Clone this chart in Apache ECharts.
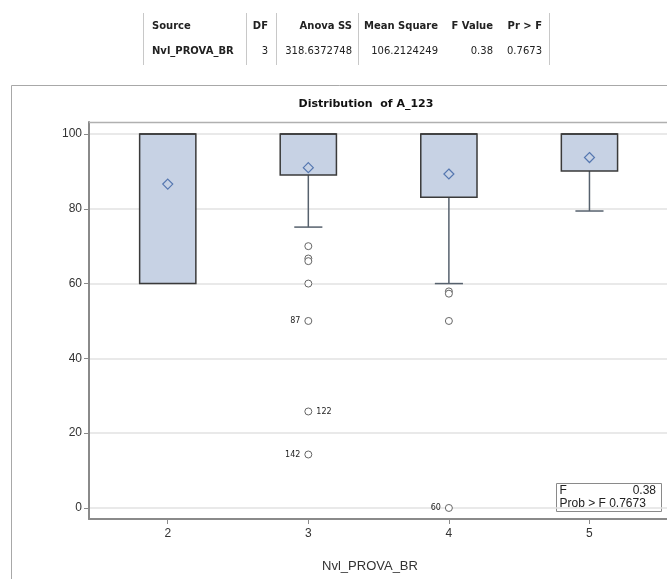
<!DOCTYPE html>
<html><head><meta charset="utf-8">
<script src="https://cdn.jsdelivr.net/npm/echarts@6/dist/echarts.min.js"></script>
<style>html,body{margin:0;padding:0;background:#fff}#c{width:667px;height:579px}</style>
</head><body><div id="c"></div>
<script>
// ---- data ----
const categories = [2, 3, 4, 5];
const tickLabels = ['2', '3', '4', '5'];
const yTicks = [0, 20, 40, 60, 80, 100];
const whiskerLow = [60, 75.1, 60, 79.4];
const q1 = [60, 89.0, 83.1, 90.1];
const median = [100, 100, 100, 100];
const q3 = [100, 100, 100, 100];
const whiskerHigh = [100, 100, 100, 100];
const means = [86.6, 91.0, 89.3, 93.7];
const outlierX = [3, 3, 3, 3, 3, 3, 3, 4, 4, 4, 4];
const outlierY = [70, 66.7, 66.0, 60, 50, 25.8, 14.3, 57.9, 57.3, 50, 0];
const outlierIds = ['', '', '', '', '87', '122', '142', '', '', '', '60'];
const anovaHeader = ['Source', 'DF', 'Anova SS', 'Mean Square', 'F Value', 'Pr > F'];
const anovaRow = ['Nvl_PROVA_BR', '3', '318.6372748', '106.2124249', '0.38', '0.7673'];
const fValue = '0.38';
const probF = '0.7673';
const chartTitle = 'Distribution  of A_123';
const xTitle = 'Nvl_PROVA_BR';

// ---- build ----
const chart = echarts.init(document.getElementById('c'), null, {renderer: 'canvas'});

const boxData = categories.map((c, i) => [c, whiskerLow[i], q1[i], median[i], q3[i], whiskerHigh[i], means[i]]);

function renderBox(params, api) {
  const x = api.value(0);
  const lo = api.coord([x, api.value(1)]);
  const b1 = api.coord([x, api.value(2)]);
  const md = api.coord([x, api.value(3)]);
  const b3 = api.coord([x, api.value(4)]);
  const hi = api.coord([x, api.value(5)]);
  const mn = api.coord([x, api.value(6)]);
  const w = api.size([0.4, 0])[0];
  const cw = api.size([0.2, 0])[0];
  const cx = lo[0];
  const wStyle = {stroke: '#56616d', lineWidth: 1.5};
  const children = [];
  if (Math.abs(lo[1] - b1[1]) > 0.5) {
    children.push({type: 'line', shape: {x1: cx, y1: b1[1], x2: cx, y2: lo[1]}, style: wStyle});
    children.push({type: 'line', shape: {x1: cx - cw / 2, y1: lo[1], x2: cx + cw / 2, y2: lo[1]}, style: wStyle});
  }
  if (Math.abs(hi[1] - b3[1]) > 0.5) {
    children.push({type: 'line', shape: {x1: cx, y1: b3[1], x2: cx, y2: hi[1]}, style: wStyle});
    children.push({type: 'line', shape: {x1: cx - cw / 2, y1: hi[1], x2: cx + cw / 2, y2: hi[1]}, style: wStyle});
  }
  children.push({type: 'rect', shape: {x: cx - w / 2, y: b3[1], width: w, height: b1[1] - b3[1]},
    style: {fill: '#c7d2e4', stroke: '#3a3a3a', lineWidth: 1.5}});
  children.push({type: 'line', shape: {x1: cx - w / 2, y1: md[1], x2: cx + w / 2, y2: md[1]},
    style: {stroke: '#3a3a3a', lineWidth: 1.5}});
  const d = 5;
  children.push({type: 'polygon', shape: {points: [[mn[0], mn[1] - d], [mn[0] + d, mn[1]], [mn[0], mn[1] + d], [mn[0] - d, mn[1]]]},
    style: {fill: 'none', stroke: '#5577b0', lineWidth: 1.2}});
  return {type: 'group', children: children};
}

const outlierData = outlierX.map((x, i) => {
  const id = outlierIds[i];
  return {
    value: [x, outlierY[i]],
    label: {show: id !== '', formatter: id, position: id === '122' ? 'right' : 'left'}
  };
});

// table graphics
const colLeft = [152, null, null, null, null, null];
const colRight = [null, 268, 352, 438, 493, 542];
const tableEls = [];
[143, 246, 276, 358, 549].forEach(x => {
  tableEls.push({type: 'line', shape: {x1: x + 0.5, y1: 13, x2: x + 0.5, y2: 65}, style: {stroke: '#c8c8c8', lineWidth: 1}});
});
anovaHeader.forEach((t, i) => {
  tableEls.push({type: 'text', x: colLeft[i] != null ? colLeft[i] : colRight[i], y: 26,
    style: {text: t, font: 'bold 10px "DejaVu Sans"', fill: '#222', align: colLeft[i] != null ? 'left' : 'right', verticalAlign: 'middle'}});
});
anovaRow.forEach((t, i) => {
  tableEls.push({type: 'text', x: colLeft[i] != null ? colLeft[i] : colRight[i], y: 51,
    style: {text: t, font: (i === 0 ? 'bold ' : '') + '10px "DejaVu Sans"', fill: '#222', align: colLeft[i] != null ? 'left' : 'right', verticalAlign: 'middle'}});
});

const option = {
  backgroundColor: '#fff',
  animation: false,
  title: {
    text: chartTitle, left: 366, top: 99, padding: 0, textAlign: 'center',
    textStyle: {fontFamily: 'DejaVu Sans', fontWeight: 'bold', fontSize: 11, color: '#111'}
  },
  grid: {left: 89, top: 122, right: 0, bottom: 60, show: false},
  xAxis: {
    type: 'value', min: 1.4398, max: 5.5516,
    name: xTitle, nameLocation: 'middle', nameGap: 41,
    nameTextStyle: {fontFamily: 'Liberation Sans', fontSize: 13, color: '#333', padding: [0, 16, 0, 0]},
    axisLine: {show: true, onZero: false, lineStyle: {color: '#8a8a8a', width: 2}},
    axisTick: {show: true, customValues: categories, length: 5, lineStyle: {color: '#8a8a8a'}},
    axisLabel: {customValues: categories, formatter: v => tickLabels[categories.indexOf(v)], margin: 9,
      fontFamily: 'Liberation Sans', fontSize: 12, color: '#333'},
    splitLine: {show: false}
  },
  yAxis: {
    type: 'value', min: -2.95, max: 103.2,
    axisLine: {show: true, onZero: false, lineStyle: {color: '#8a8a8a', width: 2}},
    axisTick: {show: true, customValues: yTicks, length: 5, lineStyle: {color: '#8a8a8a'}},
    axisLabel: {customValues: yTicks, margin: 7, fontFamily: 'Liberation Sans', fontSize: 12, color: '#333'},
    splitLine: {show: true, lineStyle: {color: '#e2e2e2', width: 1.5}}
  },
  series: [
    {type: 'custom', renderItem: renderBox, data: boxData, encode: {x: 0, y: [1, 2, 3, 4, 5, 6]}, z: 2, clip: false},
    {type: 'scatter', data: outlierData, symbol: 'circle', symbolSize: 7, z: 3,
      itemStyle: {color: '#fff', borderColor: '#666', borderWidth: 1, opacity: 1},
      label: {fontFamily: 'DejaVu Sans', fontSize: 8, color: '#222', distance: 4}}
  ],
  graphic: [
    {type: 'rect', shape: {x: 11.5, y: 85.5, width: 700, height: 600}, style: {fill: 'none', stroke: '#a8a8a8', lineWidth: 1}, z: -10},
    {type: 'line', shape: {x1: 89, y1: 122.5, x2: 667, y2: 122.5}, style: {stroke: '#b0b0b0', lineWidth: 1.5}, z: 10},
    {type: 'group', children: tableEls},
    {type: 'group', z: 20, children: [
      {type: 'rect', shape: {x: 556.5, y: 483.5, width: 105, height: 28}, style: {fill: '#fff', stroke: '#8a8a8a', lineWidth: 1}},
      {type: 'text', x: 559.5, y: 491, style: {text: 'F', font: '12px "Liberation Sans"', fill: '#222', align: 'left', verticalAlign: 'middle'}},
      {type: 'text', x: 656, y: 491, style: {text: fValue, font: '12px "Liberation Sans"', fill: '#222', align: 'right', verticalAlign: 'middle'}},
      {type: 'text', x: 559.5, y: 503.5, style: {text: 'Prob > F ' + probF, font: '12px "Liberation Sans"', fill: '#222', align: 'left', verticalAlign: 'middle'}}
    ]}
  ]
};
chart.setOption(option);
</script>
</body></html>
